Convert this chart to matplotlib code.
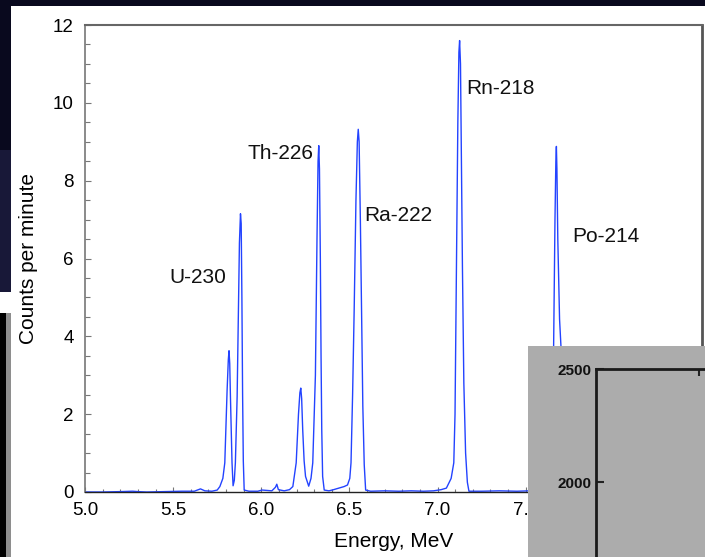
import matplotlib
matplotlib.use('Agg')
import matplotlib.pyplot as plt
from matplotlib.patches import Rectangle
from matplotlib.ticker import MultipleLocator, FormatStrFormatter

plt.rcParams['font.family'] = ['Liberation Sans', 'DejaVu Sans']

# ---- data ----
energy = [5.00, 5.10, 5.20, 5.27, 5.30, 5.35, 5.45, 5.55, 5.62, 5.655, 5.68, 5.72, 5.75, 5.765,
          5.782, 5.793, 5.806, 5.813, 5.817, 5.821, 5.825, 5.834, 5.840,
          5.847, 5.853, 5.863, 5.870, 5.876, 5.882, 5.886, 5.890, 5.894, 5.898, 5.903,
          5.93, 5.98, 6.005, 6.03, 6.06, 6.08, 6.088, 6.097, 6.13, 6.16, 6.179,
          6.198, 6.211, 6.219, 6.224, 6.229, 6.235, 6.243, 6.251, 6.269,
          6.282, 6.292, 6.307, 6.316, 6.322, 6.326, 6.330, 6.335, 6.339, 6.343, 6.348, 6.357,
          6.384, 6.41, 6.44, 6.47, 6.489, 6.502,
          6.509, 6.518, 6.527, 6.537, 6.545, 6.550, 6.555, 6.562, 6.569, 6.576, 6.584, 6.592,
          6.62, 6.70, 6.78, 6.85, 6.92, 6.977, 7.02,
          7.050, 7.077, 7.092, 7.099, 7.107, 7.115, 7.121, 7.125, 7.130, 7.135, 7.141, 7.149,
          7.159, 7.169, 7.178,
          7.25, 7.35, 7.45, 7.52, 7.56, 7.60,
          7.633, 7.648, 7.653, 7.658, 7.661, 7.666, 7.671, 7.674, 7.677, 7.682, 7.692, 7.701,
          7.708, 7.718, 7.728,
          7.85, 8.00, 8.20, 8.50]
counts = [0.00, 0.00, 0.01, 0.02, 0.01, 0.00, 0.01, 0.02, 0.02, 0.08, 0.03, 0.02, 0.05, 0.14,
          0.35, 0.75, 2.60, 3.40, 3.63, 3.30, 2.45, 0.75, 0.16,
          0.30, 0.75, 2.45, 4.50, 6.40, 7.15, 6.90, 5.00, 2.50, 0.80, 0.05,
          0.02, 0.02, 0.05, 0.04, 0.03, 0.12, 0.20, 0.06, 0.03, 0.06, 0.14,
          0.75, 2.00, 2.55, 2.67, 2.40, 1.60, 0.80, 0.40, 0.15,
          0.35, 0.75, 3.00, 6.50, 8.50, 8.90, 8.30, 6.00, 3.50, 1.60, 0.40, 0.05,
          0.03, 0.06, 0.10, 0.14, 0.18, 0.35,
          0.75, 2.50, 4.70, 7.50, 9.00, 9.32, 9.00, 7.00, 4.60, 2.20, 0.70, 0.05,
          0.02, 0.03, 0.02, 0.03, 0.02, 0.03, 0.06,
          0.10, 0.35, 0.75, 2.00, 5.80, 9.50, 11.30, 11.60, 11.00, 8.50, 5.80, 2.80,
          1.00, 0.25, 0.02,
          0.02, 0.03, 0.02, 0.03, 0.05, 0.10,
          0.30, 1.00, 1.50, 3.65, 4.80, 7.00, 8.50, 8.88, 8.30, 6.50, 4.44, 3.65,
          1.50, 0.30, 0.03,
          0.02, 0.02, 0.01, 0.01]

peak_labels = ['U-230', 'Th-226', 'Ra-222', 'Rn-218', 'Po-214']
label_x = [5.480, 5.921, 6.582, 7.162, 7.764]
label_y = [5.50, 8.69, 7.10, 10.38, 6.56]

inset_yticks = [2000, 2500]

# ---- figure ----
W, H = 705, 557
fig = plt.figure(figsize=(W / 100, H / 100), dpi=100, facecolor='#09091e')


def rect(x0, y0, x1, y1, color, z):
    fig.patches.append(Rectangle((x0 / W, 1 - y1 / H), (x1 - x0) / W, (y1 - y0) / H,
                                 transform=fig.transFigure, facecolor=color,
                                 edgecolor='none', zorder=z))


# background decorations
rect(0, 150, 11, 292, '#181838', -6)
rect(11, 6, 705, 557, 'white', -5)
rect(0, 292, 11, 313, 'white', -5)
rect(0, 313, 6, 557, 'black', -5)
rect(6, 313, 11, 557, '#8e8e8e', -5)

# main axes
ax = fig.add_axes([85 / W, 1 - 492 / H, (702 - 85) / W, (492 - 25) / H], zorder=1)
ax.set_facecolor('none')
ax.plot(energy, counts, color='#2343ff', lw=1.0)
ax.set_xlim(5.0, 8.5)
ax.set_ylim(0, 12)
ax.xaxis.set_major_locator(MultipleLocator(0.5))
ax.xaxis.set_minor_locator(MultipleLocator(0.1))
ax.xaxis.set_major_formatter(FormatStrFormatter('%.1f'))
ax.yaxis.set_major_locator(MultipleLocator(2))
ax.yaxis.set_minor_locator(MultipleLocator(0.5))
ax.tick_params(axis='x', which='major', direction='in', length=3.5, width=0.8,
               color='#777777', labelsize=13.5, pad=7)
ax.tick_params(axis='x', which='minor', direction='in', length=2.5, width=0.8, color='#777777')
ax.tick_params(axis='y', which='major', direction='in', length=4.5, width=0.8,
               color='#777777', labelsize=13.5, pad=8)
ax.tick_params(axis='y', which='minor', direction='in', length=3.5, width=0.8, color='#777777')
ax.spines['top'].set_color('#666666')
ax.spines['top'].set_linewidth(1.5)
ax.spines['left'].set_color('#777777')
ax.spines['left'].set_linewidth(1.2)
ax.spines['bottom'].set_color('#222222')
ax.spines['bottom'].set_linewidth(1.0)
ax.spines['right'].set_color('#555555')
ax.spines['right'].set_linewidth(2.0)

ax.set_xlabel('Energy, MeV', fontsize=15, va='center')
ax.set_ylabel('Counts per minute', fontsize=15, va='center')
ax.xaxis.set_label_coords(0.5, (492 - 541.7) / 467, transform=ax.transAxes)
ax.yaxis.set_label_coords((29 - 85) / 617, 0.5, transform=ax.transAxes)

# the 8.5 label lies fully under the grey inset in the reference
fig.canvas.draw()
for lab in ax.get_xticklabels():
    if lab.get_text() == '8.5':
        lab.set_visible(False)

for s, x, y in zip(peak_labels, label_x, label_y):
    ax.text(x, y, s, ha='left', va='center', fontsize=15, color='#111111')

# inset (grey panel with another chart) at bottom right
rect(528, 346, 705, 557, '#acacac', 5)
ax2 = fig.add_axes([596 / W, 1 - 595 / H, 212 / W, 226 / H], zorder=6)
ax2.set_facecolor('none')
ax2.set_xlim(0, 1)
ax2.set_ylim(1500, 2500)
ax2.set_yticks(inset_yticks)
ax2.set_yticklabels([str(v) for v in inset_yticks])
ax2.set_xticks([103 / 212])
ax2.xaxis.set_ticks_position('top')
ax2.tick_params(axis='x', direction='in', length=5, width=1.5, color='#222222',
                labeltop=False, labelbottom=False)
ax2.tick_params(axis='y', direction='in', length=6, width=1.5, color='#222222', pad=3.5,
                labelsize=11)
for lab in ax2.get_yticklabels():
    lab.set_family(['Liberation Sans Narrow', 'Liberation Sans', 'DejaVu Sans'])
    lab.set_fontweight('bold')
    lab.set_color('#111111')
for sp in ['top', 'left']:
    ax2.spines[sp].set_color('#1a1a1a')
    ax2.spines[sp].set_linewidth(2.0)
for sp in ['right', 'bottom']:
    ax2.spines[sp].set_visible(False)

fig.savefig('out.png', dpi=100, facecolor=fig.get_facecolor())
